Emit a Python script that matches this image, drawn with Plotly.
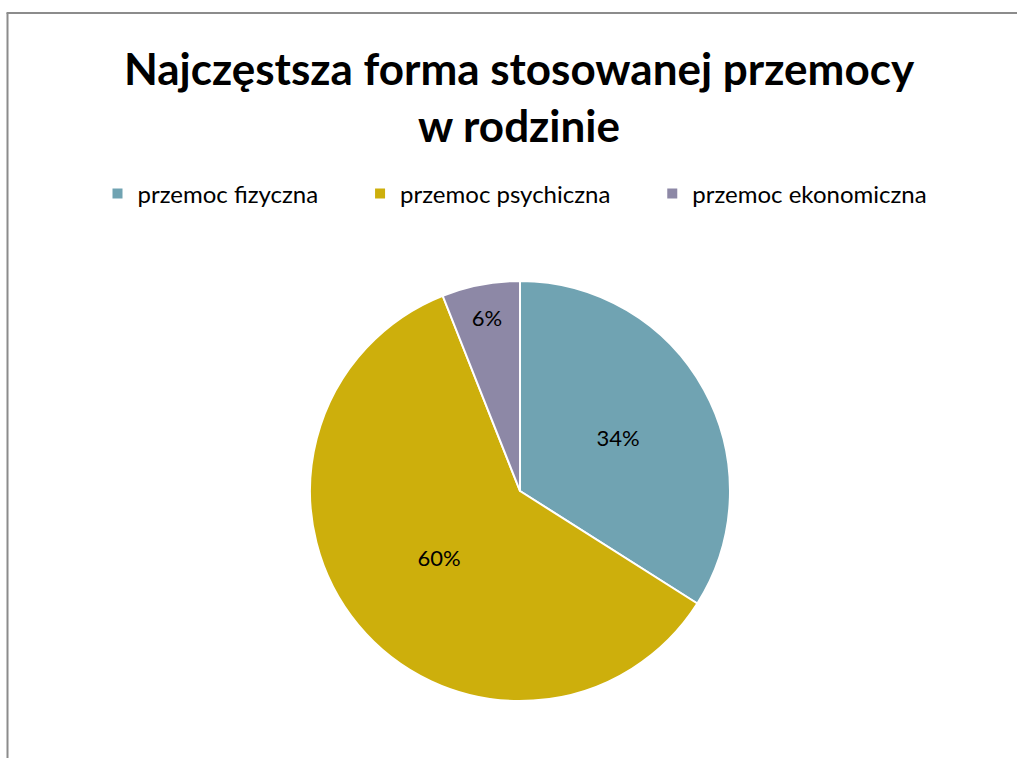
import plotly.graph_objects as go

categories = ["przemoc fizyczna", "przemoc psychiczna", "przemoc ekonomiczna"]
values = [34, 60, 6]
colors = ["#70A3B2", "#CDAF0C", "#8D88A6"]
title_lines = ["Najczęstsza forma stosowanej przemocy", "w rodzinie"]

W, H = 1017, 758
cx, cy, r = 520, 491, 210

# extra spacing after legend entries (Excel-like legend gaps)
legend_labels = [c + ("\u00a0" * 6 if i < len(categories) - 1 else "") for i, c in enumerate(categories)]

fig = go.Figure(go.Pie(
    labels=legend_labels,
    values=values,
    sort=False,
    direction="clockwise",
    rotation=0,
    marker=dict(colors=colors, line=dict(color="white", width=2)),
    texttemplate="%{percent:.0%}",
    textposition="inside",
    insidetextorientation="horizontal",
    textfont=dict(family="Lato", size=22, color="black"),
    hoverinfo="skip",
    domain=dict(x=[(cx - r) / W, (cx + r) / W], y=[1 - (cy + r) / H, 1 - (cy - r) / H]),
))

fig.update_layout(
    width=W, height=H,
    margin=dict(l=0, r=0, t=0, b=0),
    paper_bgcolor="white",
    plot_bgcolor="white",
    title=dict(
        text="<br>".join(title_lines),
        x=519 / W, xanchor="center",
        y=1 - 85 / H, yanchor="middle",
        font=dict(family="Lato", size=44, color="black", weight="bold"),
    ),
    legend=dict(
        orientation="h",
        x=515 / W, xanchor="center",
        y=1 - 194 / H, yanchor="middle",
        font=dict(family="Lato", size=24, color="black"),
        itemsizing="constant",
    ),
    shapes=[
        dict(type="line", xref="paper", yref="paper",
             x0=7.5 / W, x1=7.5 / W, y0=0, y1=1 - 13 / H,
             line=dict(color="#8C8C8C", width=2)),
        dict(type="line", xref="paper", yref="paper",
             x0=6.5 / W, x1=1, y0=1 - 13 / H, y1=1 - 13 / H,
             line=dict(color="#8C8C8C", width=2)),
    ],
)

fig.write_html("out.html", config={"displayModeBar": False},
               post_script="document.body.style.margin='0';")
